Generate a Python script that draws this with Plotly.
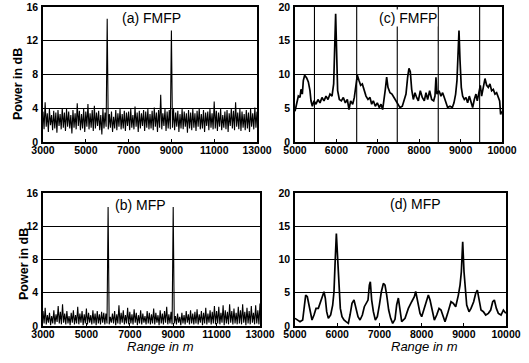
import plotly.graph_objects as go

# ---------------- data ----------------
# (a) FMFP, range 3000-13000 m sampled every 50 m (dense noise + two peaks)
range_ab = list(range(3000, 13001, 50))
power_a = [
    3.6,1.5,4.7,1.8,3.4,1.2,3.9,2.0,3.2,1.4,3.7,1.6,3.5,1.1,3.8,1.9,3.3,1.5,4.0,1.7,
    3.5,1.3,3.9,1.8,3.6,1.6,3.2,1.0,3.8,1.7,3.4,1.5,4.6,1.9,3.7,1.4,3.3,1.6,3.9,1.2,
    3.6,1.8,4.5,1.5,3.4,1.7,3.8,1.3,4.3,1.6,3.5,1.9,3.7,1.4,3.2,0.9,3.9,1.6,3.5,1.8,
    14.6,1.5,3.3,1.7,3.6,1.2,3.0,1.6,3.8,1.4,3.4,1.8,3.9,1.5,3.3,1.6,3.7,1.3,3.5,1.9,
    3.6,1.4,3.9,1.7,3.2,1.5,4.2,1.8,3.5,1.2,3.7,1.6,3.4,1.9,3.8,1.3,3.6,1.7,3.9,1.5,
    3.3,1.6,3.7,1.4,4.1,1.8,3.5,1.2,3.8,1.7,5.6,1.5,3.4,1.9,3.9,1.3,3.6,1.6,3.8,1.5,
    13.2,1.7,3.9,1.4,3.5,1.8,3.7,1.2,3.3,1.6,3.9,1.5,3.6,1.8,3.4,1.1,3.8,1.6,3.5,1.4,
    3.9,1.7,3.4,1.3,3.7,1.8,4.0,1.5,3.3,1.6,3.8,1.2,3.5,1.9,3.6,1.4,3.9,1.7,3.4,1.5,
    4.8,1.6,3.7,1.3,3.5,1.8,3.9,1.4,3.2,1.7,3.6,1.5,3.8,1.2,3.4,1.9,4.0,1.6,3.7,1.4,
    4.7,1.8,3.5,1.5,3.9,1.3,3.6,1.7,3.3,1.4,3.8,1.6,3.5,1.2,3.9,1.8,3.4,1.5,4.1,1.7,
    3.6,
]
# (b) MFP, same range sampling
power_b = [
    1.8,0.3,2.2,0.2,1.3,0.4,1.6,0.1,1.2,0.3,1.9,0.2,1.4,0.5,2.4,0.3,1.7,0.2,2.6,0.4,
    1.5,0.2,1.8,0.3,1.2,0.1,1.6,0.4,1.9,0.2,1.3,0.3,2.3,0.2,1.5,0.4,1.8,0.1,1.4,0.3,
    2.1,0.2,1.6,0.4,1.3,0.2,1.9,0.3,1.5,0.1,1.8,0.3,1.4,0.2,1.7,0.4,1.6,0.2,1.5,0.3,
    14.3,0.2,1.1,0.4,1.5,0.3,1.8,0.1,1.4,0.3,2.5,0.2,1.6,0.4,1.9,0.2,1.3,0.3,2.2,0.2,
    1.7,0.3,1.4,0.2,2.0,0.4,1.6,0.1,1.3,0.3,1.9,0.2,1.5,0.4,1.2,0.2,1.8,0.3,1.6,0.2,
    1.4,0.3,2.1,0.2,1.6,0.4,1.3,0.1,1.9,0.3,1.5,0.2,1.8,0.4,2.3,0.2,1.4,0.3,1.7,0.2,
    14.3,0.3,1.2,0.2,1.5,0.4,1.1,0.1,1.6,0.3,1.3,0.2,1.8,0.4,1.4,0.2,1.9,0.3,1.5,0.2,
    1.7,0.3,2.0,0.2,1.4,0.4,1.8,0.1,1.6,0.3,2.2,0.2,1.5,0.4,1.9,0.2,1.7,0.3,2.4,0.2,
    1.8,0.3,2.3,0.2,1.6,0.4,2.5,0.1,1.9,0.3,1.7,0.2,2.6,0.4,1.8,0.2,2.1,0.3,1.6,0.2,
    2.3,0.3,1.9,0.2,2.6,0.4,1.7,0.1,2.2,0.3,1.8,0.2,2.4,0.4,1.6,0.2,2.5,0.3,1.9,0.2,
    2.7,
]

# (c) FMFP, 5000-10000 m
range_c = [5000,5040,5081,5121,5145,5177,5201,5233,5282,5322,5362,5386,5419,5459,5507,5555,
           5604,5652,5700,5749,5797,5845,5894,5934,5958,5982,6006,6030,6071,6119,6167,6216,
           6264,6304,6344,6393,6433,6473,6505,6546,6586,6626,6666,6715,6763,6811,6852,6892,
           6940,6988,7037,7077,7117,7149,7182,7214,7246,7294,7342,7391,7439,7487,
           7536,7592,7640,7681,7721,7753,7785,7818,7858,7898,7938,7979,8027,8075,8123,8164,
           8204,8252,8301,8349,8381,8405,8429,8478,8526,8566,8606,8647,8687,8743,8800,8840,
           8880,8912,8936,8961,8985,9017,9049,9089,9130,9170,9210,9250,9291,9331,9371,9403,
           9444,9476,9508,9548,9589,9629,9669,9709,9750,9790,9830,9870,9911,9943,9967,9995]
power_c = [4.55,5.6,6.8,6.6,7.8,7.1,9.1,9.9,9.5,8.9,7.6,6.1,5.3,6.1,5.6,6.3,
           5.8,6.6,6.1,6.8,6.3,7.1,6.8,8.6,13.7,19.0,13.2,7.6,6.3,6.1,6.6,5.8,
           6.3,4.8,6.1,5.6,6.6,8.6,9.9,9.1,8.4,8.6,7.6,6.8,6.3,6.6,5.6,6.1,
           5.3,5.8,5.1,5.6,4.8,6.1,7.8,9.6,8.1,7.3,7.1,6.6,6.1,5.6,
           5.1,5.3,6.3,7.1,9.6,10.9,10.4,7.8,6.3,7.3,6.6,6.1,7.6,6.6,6.1,7.3,
           6.3,7.6,6.3,6.1,6.8,9.6,7.1,7.6,6.8,7.3,6.6,5.8,5.1,5.3,5.1,5.8,
           7.1,9.1,12.7,16.5,12.2,8.1,6.8,6.3,6.6,5.8,6.8,6.1,5.1,6.3,7.1,6.1,
           7.3,8.4,6.8,8.1,9.4,8.4,8.1,8.6,7.6,7.8,7.1,7.3,6.6,6.1,4.1,4.55]

# (d) MFP, 5000-10000 m
range_d = [5000,5055,5119,5182,5221,5253,5292,5332,5371,5403,5450,5498,5553,5593,5640,5687,
           5719,5751,5790,5845,5893,5924,5948,5980,6011,6043,6074,6114,6161,6209,6264,6304,
           6351,6398,6446,6493,6541,6596,6643,6683,6730,6762,6785,6817,6857,6904,6951,6999,
           7046,7094,7133,7173,7220,7267,7315,7370,
           7410,7449,7489,7528,7607,7686,7765,7828,7860,7907,7963,8002,8065,8121,8160,8200,
           8255,8302,8358,8413,8460,8516,8555,8618,8658,8697,8753,8808,8871,8911,8942,8974,
           9005,9037,9069,9124,9171,9234,9282,9321,9361,9408,9464,9519,9582,9637,9685,9724,
           9772,9819,9882,9938,9995]
power_d = [1.15,0.9,0.65,0.9,2.65,4.65,4.4,2.9,1.65,0.9,1.65,2.65,2.65,3.4,4.15,5.15,
           4.15,2.15,1.15,1.65,3.15,5.15,9.15,13.9,10.15,5.65,2.65,1.4,0.9,0.65,0.4,1.65,
           3.4,3.9,2.65,1.4,0.9,1.65,2.9,3.4,3.9,6.15,6.65,3.9,2.15,0.9,1.4,3.15,
           5.15,6.4,6.15,4.65,2.4,1.15,0.4,1.0,
           3.2,4.2,2.2,0.65,1.15,2.65,3.65,4.4,5.2,3.9,1.9,1.4,2.65,3.9,4.65,3.9,
           2.15,0.9,1.65,2.65,2.4,1.15,0.65,1.9,2.9,3.65,3.4,2.9,4.65,6.15,8.15,12.65,
           8.15,5.15,3.15,2.15,2.65,3.65,4.9,5.4,3.9,2.4,2.15,1.65,1.9,2.4,3.65,3.9,
           2.65,1.9,1.65,2.4,1.9]

grid_x_c = [5470, 6490, 7470, 8460, 9460]

labels = ["(a) FMFP", "(b) MFP", "(c) FMFP", "(d) MFP"]

# ---------------- figure ----------------
W, H = 529, 363
def px(x):
    return x / W
def py(y):
    return 1 - y / H

FONT = "Liberation Sans, Arial, Helvetica, sans-serif"
LINE = dict(color="black", width=1.1)

fig = go.Figure()
fig.add_trace(go.Scatter(x=range_ab, y=power_a, mode="lines", line=LINE, xaxis="x", yaxis="y"))
fig.add_trace(go.Scatter(x=range_ab, y=power_b, mode="lines", line=LINE, xaxis="x2", yaxis="y2"))
fig.add_trace(go.Scatter(x=range_c, y=power_c, mode="lines", line=dict(color="black", width=1.7), xaxis="x3", yaxis="y3"))
fig.add_trace(go.Scatter(x=range_d, y=power_d, mode="lines", line=dict(color="black", width=1.7), xaxis="x4", yaxis="y4"))

tickfont = dict(family=FONT, size=10.5, color="black", weight="bold")
def xax(dom, anchor, rng, dtick):
    return dict(domain=dom, anchor=anchor, range=rng, dtick=dtick, tick0=rng[0],
                tickformat="d", showgrid=False, zeroline=False, showline=True,
                linecolor="black", linewidth=1.5, mirror=True, ticks="inside",
                ticklen=3, tickcolor="black", tickfont=tickfont, ticklabelstandoff=-2,
                automargin=False)
def yax(dom, anchor, rng, dtick):
    return dict(domain=dom, anchor=anchor, range=rng, dtick=dtick, tick0=0,
                showgrid=True, gridcolor="black", gridwidth=1.1, zeroline=False,
                showline=True, linecolor="black", linewidth=1.5, mirror=True,
                ticks="", tickfont=tickfont, ticklabelstandoff=1, automargin=False)

ya_dom_top = [py(142), py(7)]
ya_dom_bot = [py(326), py(193)]

fig.update_layout(
    width=W, height=H, margin=dict(l=0, r=0, t=0, b=0, autoexpand=False),
    paper_bgcolor="white", plot_bgcolor="white", showlegend=False,
    xaxis=xax([px(43), px(257)], "y", [3000, 13000], 2000),
    yaxis=yax(ya_dom_top, "x", [0, 16], 4),
    xaxis2=xax([px(43), px(260)], "y2", [3000, 13000], 2000),
    yaxis2=yax(ya_dom_bot, "x2", [0, 16], 4),
    xaxis3=xax([px(295), px(502)], "y3", [5000, 10000], 1000),
    yaxis3=yax(ya_dom_top, "x3", [0, 20], 5),
    xaxis4=xax([px(295), px(506)], "y4", [5000, 10000], 1000),
    yaxis4=yax(ya_dom_bot, "x4", [0, 20], 5),
)

for gx in grid_x_c:
    fig.add_shape(type="line", x0=gx, x1=gx, y0=0, y1=20, xref="x3", yref="y3",
                  line=dict(color="black", width=1.1), layer="below")

def note(text, x, y, font, angle=0, bg=None):
    fig.add_annotation(text=text, x=px(x), y=py(y), xref="paper", yref="paper",
                       xanchor="center", yanchor="middle", textangle=angle,
                       showarrow=False, font=font, borderpad=0,
                       bgcolor=bg if bg else "rgba(0,0,0,0)")

title_font = dict(family=FONT, size=14, color="black")
pos = [(151, 18), (140, 205), (408, 18), (415, 204)]
for (xx, yy), t in zip(pos, labels):
    note(t, xx, yy, title_font, bg="white")

ytfont = dict(family=FONT, size=12.5, color="black", weight="bold")
note("Power in dB", 18, 84, ytfont, angle=-90)
note("Power in dB", 24, 264, ytfont, angle=-90)
xtfont = dict(family=FONT, size=13, color="black", style="italic")
note("Range in m", 160, 346, xtfont)
note("Range in m", 424, 346, xtfont)

fig.write_html("out.html", config={"displayModeBar": False},
               post_script="document.body.style.margin='0';document.body.style.padding='0';")
